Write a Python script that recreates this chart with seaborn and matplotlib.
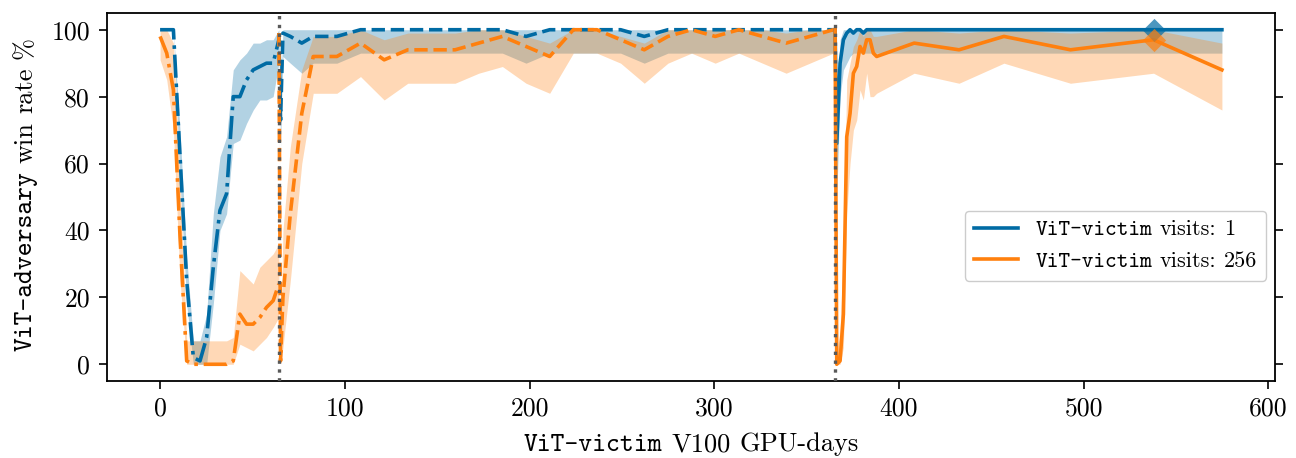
import numpy as np
import pandas as pd
import matplotlib
matplotlib.use("Agg")
import matplotlib.pyplot as plt
from matplotlib.font_manager import FontProperties
from matplotlib.offsetbox import TextArea, HPacker
from matplotlib.lines import Line2D
from matplotlib.transforms import IdentityTransform
import seaborn as sns

# ---------------- data ----------------
series_names = ["ViT-victim visits: 1", "ViT-victim visits: 256"]

# segment 1 (dash-dot)
seg1_x = [0, 3.6, 7.2, 10.8, 14.4, 18, 21.6, 25.2, 28.8, 32.4, 36, 39.6, 43.2, 46.8, 50.4, 54, 57.6, 61.2, 64.3]
seg1_blue = [100, 100, 100, 62, 25, 2, 1, 8, 29, 46, 51, 80, 80, 85, 88, 89, 90, 90, 97]
seg1_blue_lo = [100, 100, 100, 55, 18, 0, 0, 0, 18, 40, 45, 66, 67, 72, 76, 79, 79, 80, 90]
seg1_blue_hi = [100, 100, 100, 70, 32, 7, 7, 15, 45, 62, 68, 88, 91, 93, 96, 96, 97, 97, 100]
seg1_orange = [98, 93, 82, 38, 1, 0, 0, 0, 0, 0, 0, 1, 15, 12, 12, 14, 17, 19, 24]
seg1_orange_lo = [91, 85, 70, 25, 0, 0, 0, 0, 0, 0, 0, 0, 6, 5, 4, 6, 8, 11, 14]
seg1_orange_hi = [100, 100, 96, 55, 7, 7, 7, 7, 7, 7, 7, 8, 28, 26, 24, 29, 31, 33, 36]

# segment 2 (dashed)
seg2_x = [64.3, 65.2, 66.5, 70.5, 76.7, 82.9, 95.7, 108.5, 121.3, 134.1, 146.9, 159.7, 172.5, 185.3,
          198.1, 210.9, 223.7, 236.5, 249.3, 262.1, 274.9, 287.7, 300.5, 313.3, 326.1, 338.9, 351.7, 364.5]
seg2_blue = [99, 73, 99, 98, 96, 98, 98, 100, 100, 100, 100, 100, 100, 100,
             98, 100, 100, 100, 100, 98, 100, 100, 100, 100, 100, 100, 100, 100]
seg2_blue_lo = [95, 65, 92, 90, 87, 90, 90, 93, 93, 93, 93, 93, 93, 93,
                90, 93, 93, 93, 93, 90, 93, 93, 93, 93, 93, 93, 93, 93]
seg2_blue_hi = [100, 80, 100, 100, 100, 100, 100, 100, 100, 100, 100, 100, 100, 100,
                100, 100, 100, 100, 100, 100, 100, 100, 100, 100, 100, 100, 100, 100]
seg2_orange = [99, 1, 20, 45, 75, 92, 92, 96, 91, 94, 94, 94, 96, 98,
               95, 92, 100, 100, 97, 94, 98, 100, 98, 100, 98, 96, 98, 100]
seg2_orange_lo = [95, 0, 5, 25, 60, 81, 81, 86, 79, 84, 84, 84, 87, 89,
                  84, 81, 93, 93, 90, 84, 90, 93, 90, 93, 90, 87, 90, 93]
seg2_orange_hi = [100, 5, 40, 65, 88, 98, 98, 100, 97, 99, 99, 99, 100, 100,
                  98, 96, 100, 100, 98, 96, 100, 100, 100, 100, 100, 99, 100, 100]

# segment 3 (solid)
seg3_x = [365.4, 366.3, 368.1, 369.9, 371.7, 373.5, 375.3, 377.1, 378.9, 380.7, 382.5, 384.3, 386.1, 387.9,
          408.2, 432.5, 456.8, 492.8, 537.8, 574.8]
seg3_blue = [100, 66, 90, 97, 99, 100, 99, 100, 100, 99, 100, 100, 100, 100,
             100, 100, 100, 100, 100, 100]
seg3_blue_lo = [95, 50, 80, 88, 90, 92, 93, 93, 93, 93, 93, 93, 93, 93,
                93, 93, 93, 93, 93, 93]
seg3_blue_hi = [100, 78, 97, 100, 100, 100, 100, 100, 100, 100, 100, 100, 100, 100,
                100, 100, 100, 100, 100, 100]
seg3_orange = [100, 0, 1, 15, 68, 75, 87, 89, 95, 93, 97, 97, 93, 92,
               96, 94, 98, 94, 97, 88]
seg3_orange_lo = [95, 0, 0, 5, 45, 60, 70, 73, 82, 79, 87, 80, 80, 81,
                  87, 84, 90, 84, 87, 76]
seg3_orange_hi = [100, 3, 10, 35, 85, 90, 95, 97, 100, 98, 100, 100, 98, 98,
                  100, 99, 100, 99, 100, 96]

# highlighted checkpoint (diamonds)
diamond_x = [537.8]
diamond_blue = [100]
diamond_orange = [97]

# boundaries between victim training runs
boundary_x = [64.3, 365.4]

x_ticks = [0, 100, 200, 300, 400, 500, 600]
y_ticks = [0, 20, 40, 60, 80, 100]

# ---------------- style ----------------
BLUE = "#006BA4"
ORANGE = "#FF800E"
GRAY = "#595959"
palette = {series_names[0]: BLUE, series_names[1]: ORANGE}

plt.rcParams["font.family"] = "cmr10"
plt.rcParams["axes.unicode_minus"] = False
plt.rcParams["axes.linewidth"] = 1.3

TICK_FS = 18.5
LABEL_FS = 19
LEG_FS = 16
LW = 2.6

fig = plt.figure(figsize=(12.96, 4.58), dpi=100)
ax = fig.add_axes([107 / 1296, 77 / 458, 1168 / 1296, 368 / 458])

segments = [
    (seg1_x, seg1_blue, seg1_blue_lo, seg1_blue_hi, seg1_orange, seg1_orange_lo, seg1_orange_hi, "-."),
    (seg2_x, seg2_blue, seg2_blue_lo, seg2_blue_hi, seg2_orange, seg2_orange_lo, seg2_orange_hi, "--"),
    (seg3_x, seg3_blue, seg3_blue_lo, seg3_blue_hi, seg3_orange, seg3_orange_lo, seg3_orange_hi, "-"),
]

# bands
for seg in segments:
    ax.fill_between(seg[0], seg[2], seg[3], color=BLUE, alpha=0.3, lw=0)
for seg in segments:
    ax.fill_between(seg[0], seg[5], seg[6], color=ORANGE, alpha=0.3, lw=0)

# lines
for seg in segments:
    x, yb, _, _, yo, _, _, ls = seg
    df = pd.DataFrame({
        "x": list(x) + list(x),
        "y": list(yb) + list(yo),
        "series": [series_names[0]] * len(x) + [series_names[1]] * len(x),
    })
    sns.lineplot(data=df, x="x", y="y", hue="series", palette=palette, linestyle=ls,
                 linewidth=LW, errorbar=None, legend=False, sort=False, ax=ax)

# diamonds
sns.scatterplot(x=diamond_x, y=diamond_blue, marker="D", s=140, color=BLUE, alpha=0.7,
                linewidth=0, legend=False, ax=ax, zorder=4)
sns.scatterplot(x=diamond_x, y=diamond_orange, marker="D", s=140, color=ORANGE, alpha=0.7,
                linewidth=0, legend=False, ax=ax, zorder=4)

for bx in boundary_x:
    ax.axvline(bx, color=GRAY, linestyle=":", linewidth=2.4, zorder=6)

ax.set_xticks(x_ticks)
ax.set_yticks(y_ticks)
ax.set_xlabel("")
ax.set_ylabel("")
ax.tick_params(axis="x", which="both", bottom=True, top=False, direction="out",
               length=5.8, width=1.2, pad=5.5, labelsize=TICK_FS)
ax.tick_params(axis="y", which="both", left=True, right=True, labelleft=True, labelright=False,
               direction="out", length=5.8, width=1.2, pad=6.5, labelsize=TICK_FS)
for sp in ax.spines.values():
    sp.set_color("black")

# legend with mixed typewriter / roman labels
handles = [Line2D([], [], color=BLUE, lw=LW), Line2D([], [], color=ORANGE, lw=LW)]
LRM = FontProperties(family="cmr10", size=LEG_FS)
LTT = FontProperties(family="cmtt10", size=LEG_FS)
leg = ax.legend(handles, series_names, loc="center right", bbox_to_anchor=(1.0, 0.367),
                prop=LRM, borderaxespad=0.4, handlelength=2.0, handletextpad=0.8,
                edgecolor="0.8", framealpha=1.0, fancybox=True)
for col in leg._legend_handle_box.get_children():
    for item in col.get_children():
        kids = item.get_children()
        txt = kids[1].get_text()
        boxes = []
        for w in txt.split(" "):
            fp = LTT if w.startswith("ViT") else LRM
            boxes.append(TextArea(w, textprops=dict(fontproperties=fp, verticalalignment="baseline",
                                                    horizontalalignment="left")))
        hp = HPacker(children=boxes, sep=0.333 * LEG_FS, pad=0, align="baseline")
        hp.set_figure(fig)
        kids[1] = hp

# axis labels with mixed fonts
fig.canvas.draw()
renderer = fig.canvas.get_renderer()
RM = FontProperties(family="cmr10", size=LABEL_FS)
TT = FontProperties(family="cmtt10", size=LABEL_FS)


def place_words(words, xc, yc, rotation, fs):
    px = fig.dpi / 72.0
    space = 0.333 * fs * px
    widths = [renderer.get_text_width_height_descent(w, fp, ismath=False)[0] for w, fp in words]
    total = sum(widths) + space * (len(words) - 1)
    ang = np.deg2rad(rotation)
    dx, dy = np.cos(ang), np.sin(ang)
    pos = -total / 2.0
    for (w, fp), wd in zip(words, widths):
        fig.text(xc + pos * dx, yc + pos * dy, w, fontproperties=fp, rotation=rotation,
                 rotation_mode="anchor", ha="left", va="baseline", transform=IdentityTransform())
        pos += wd + space


place_words([("ViT-victim", TT), ("V100", RM), ("GPU-days", RM)], 691, 7, 0, LABEL_FS)
place_words([("ViT-adversary", TT), ("win", RM), ("rate", RM), ("%", RM)], 32, 264, 90, LABEL_FS)

fig.savefig("out.png", dpi=100)
